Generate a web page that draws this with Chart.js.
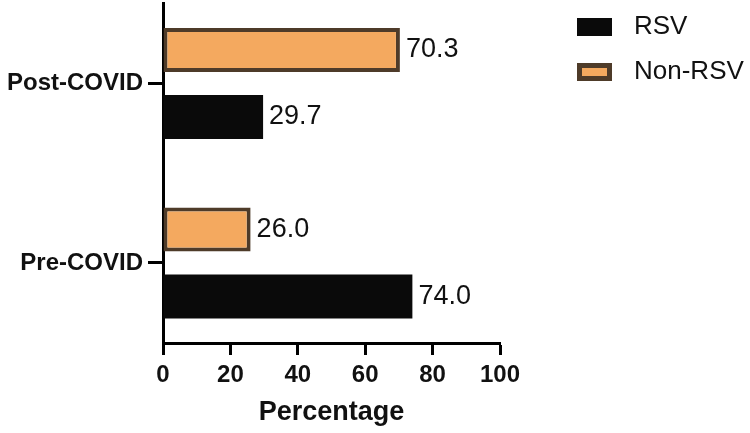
<!DOCTYPE html>
<html><head><meta charset="utf-8">
<script src="https://cdn.jsdelivr.net/npm/chart.js@4.4.1/dist/chart.umd.min.js"></script>
<style>html,body{margin:0;padding:0;background:#fff;}</style>
</head><body>
<canvas id="c" width="750" height="433" style="width:750px;height:433px;display:block"></canvas>
<script>
const categories = ['Post-COVID', 'Pre-COVID'];
const rsvValues = [29.7, 74.0];
const nonRsvValues = [70.3, 26.0];
const xTickValues = [0, 20, 40, 60, 80, 100];
const seriesNames = ['RSV', 'Non-RSV'];

const FONT = "'Liberation Sans', Arial, Helvetica, sans-serif";
const INK = '#111111';
const ORANGE = '#F4A95F';
const BROWN = '#4E3B29';
const BLACK = '#0A0A0A';

const toPoints = vals => vals.map((v, i) => ({ y: i, x: v }));

// legend swatch images (35x18 box with border drawn inside)
function swatch(fill, stroke, bw) {
  const c = document.createElement('canvas');
  c.width = 35; c.height = 18;
  const g = c.getContext('2d');
  g.fillStyle = stroke; g.fillRect(0, 0, 35, 18);
  g.fillStyle = fill; g.fillRect(bw, bw, 35 - 2 * bw, 18 - 2 * bw);
  return c;
}

const valueLabels = {
  id: 'valueLabels',
  afterDatasetsDraw(chart) {
    const ctx = chart.ctx;
    ctx.save();
    ctx.font = '27px ' + FONT;
    ctx.fillStyle = INK;
    ctx.textAlign = 'left';
    ctx.textBaseline = 'middle';
    chart.data.datasets.forEach((ds, di) => {
      const meta = chart.getDatasetMeta(di);
      meta.data.forEach((bar, i) => {
        ctx.fillText(ds.data[i].x.toFixed(1), bar.x + 6, bar.y);
      });
    });
    ctx.restore();
  }
};

const legendPlace = {
  id: 'legendPlace',
  afterLayout(chart) {
    const lg = chart.legend;
    if (!lg) return;
    const w = lg.width, h = lg.height;
    lg.left = 549; lg.right = 549 + w;
    lg.top = -5; lg.bottom = -5 + h;
  }
};

new Chart(document.getElementById('c'), {
  type: 'bar',
  data: {
    datasets: [
      { label: seriesNames[1], data: toPoints(nonRsvValues), backgroundColor: ORANGE, borderColor: BROWN, borderWidth: 4, borderSkipped: false, pointStyle: swatch(ORANGE, BROWN, 5) },
      { label: seriesNames[0], data: toPoints(rsvValues), backgroundColor: BLACK, borderColor: BLACK, borderWidth: 0, pointStyle: swatch(BLACK, BLACK, 0) }
    ]
  },
  options: {
    indexAxis: 'y',
    responsive: false,
    animation: false,
    devicePixelRatio: 1,
    categoryPercentage: 0.7465,
    barPercentage: 0.6567,
    layout: { padding: { left: 0, top: 3, right: 250, bottom: 0 } },
    scales: {
      y: {
        type: 'linear',
        reverse: true,
        offset: false,
        min: -0.4485,
        max: 1.4457,
        afterBuildTicks(scale) { scale.ticks = categories.map((c, i) => ({ value: i })); },
        afterFit(scale) { scale.width = 163; scale.paddingTop = 0; scale.paddingBottom = 0; },
        ticks: {
          autoSkip: false,
          padding: 5,
          color: INK,
          font: { family: FONT, size: 24, weight: 'bold' },
          callback: v => categories[v]
        },
        grid: { offset: false, drawOnChartArea: false, drawTicks: true, tickLength: 15, tickWidth: 3, tickColor: '#000', color: '#000' },
        border: { display: true, color: '#000', width: 3 }
      },
      x: {
        type: 'linear',
        min: 0,
        max: 100,
        afterBuildTicks(scale) { scale.ticks = xTickValues.map(v => ({ value: v })); },
        afterFit(scale) { scale.height = 90; },
        ticks: {
          padding: 6,
          color: INK,
          font: { family: FONT, size: 24, weight: 'bold' }
        },
        grid: { drawOnChartArea: false, drawTicks: true, tickLength: 12, tickWidth: 3, tickColor: '#000', color: '#000' },
        border: { display: true, color: '#000', width: 3 },
        title: {
          display: true,
          text: 'Percentage',
          color: INK,
          font: { family: FONT, size: 27, weight: 'bold' },
          padding: { top: 0, bottom: 4 }
        }
      }
    },
    plugins: {
      tooltip: { enabled: false },
      legend: {
        position: 'chartArea',
        align: 'start',
        reverse: true,
        labels: {
          usePointStyle: true,
          pointStyleWidth: 53,
          boxWidth: 35,
          boxHeight: 18,
          padding: 19,
          color: INK,
          font: { family: FONT, size: 26 }
        }
      }
    }
  },
  plugins: [valueLabels, legendPlace]
});
</script>
</body></html>
